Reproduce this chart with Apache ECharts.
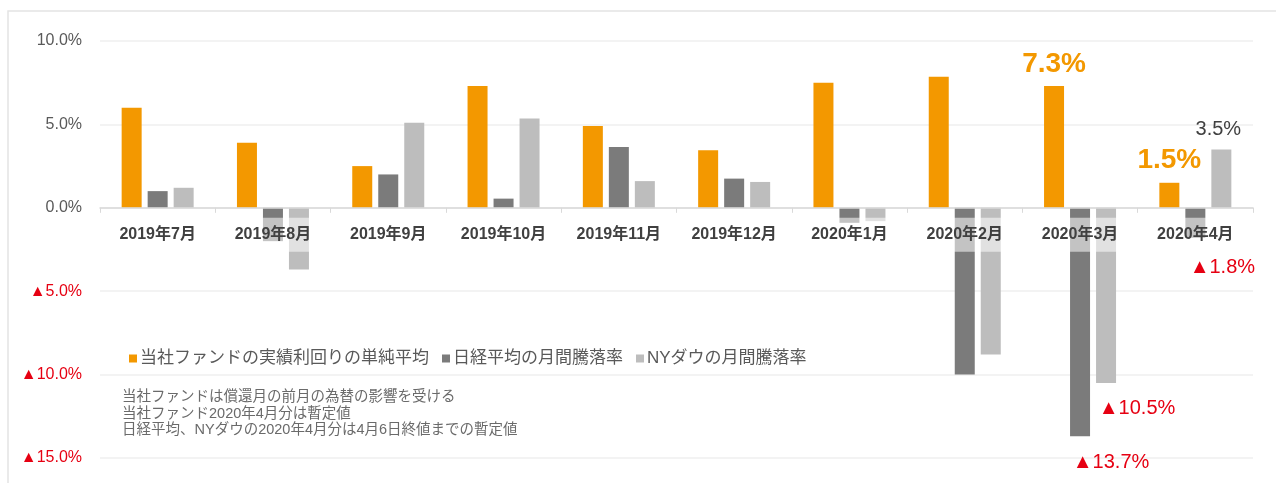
<!DOCTYPE html>
<html>
<head>
<meta charset="utf-8">
<script src="https://cdn.jsdelivr.net/npm/echarts@6/dist/echarts.min.js"></script>
<style>
  html, body { margin: 0; padding: 0; background: #fff; }
  #main { width: 1276px; height: 483px; }
</style>
</head>
<body>
<div id="main"></div>
<script>
var months = ['2019年7月', '2019年8月', '2019年9月', '2019年10月', '2019年11月', '2019年12月', '2020年1月', '2020年2月', '2020年3月', '2020年4月'];
var fundYield = [6.0, 3.9, 2.5, 7.3, 4.9, 3.45, 7.5, 7.85, 7.3, 1.5];
var nikkei = [1.0, -2.0, 2.0, 0.55, 3.65, 1.75, -0.9, -10.0, -13.7, -1.8];
var nyDow = [1.2, -3.7, 5.1, 5.35, 1.6, 1.55, -0.8, -8.8, -10.5, 3.5];
var seriesNames = ['当社ファンドの実績利回りの単純平均', '日経平均の月間騰落率', 'NYダウの月間騰落率'];
var notes = [
  '当社ファンドは償還月の前月の為替の影響を受ける',
  '当社ファンド2020年4月分は暫定値',
  '日経平均、NYダウの2020年4月分は4月6日終値までの暫定値'
];
// which months get a callout
var fundCallouts = [8, 9];
var nikkeiCallouts = [8, 9];
var dowCallouts = [8, 9];

var FONT = '"Liberation Sans", "Noto Sans CJK JP", sans-serif';
var ORANGE = '#f39800', DARK = '#7b7b7b', LIGHT = '#bdbdbd', RED = '#e60012';

var GRID_TOP = 41, GRID_BOTTOM = 25, H = 483;
var Y_MIN = -15, Y_MAX = 10;
// move the category axis up to the zero line
var plotH = H - GRID_TOP - GRID_BOTTOM;
var zeroOffset = -plotH * (0 - Y_MIN) / (Y_MAX - Y_MIN);

function pct(v) {
  return v < 0 ? '▲' + Math.abs(v).toFixed(1) + '%' : v.toFixed(1) + '%';
}

function withCallouts(values, idx, labelFor) {
  return values.map(function (v, i) {
    if (idx.indexOf(i) < 0) return v;
    return { value: v, label: labelFor(v, i) };
  });
}

var fundData = withCallouts(fundYield, fundCallouts, function (v) {
  return { show: true, position: 'top', distance: 8, formatter: pct(v),
    fontSize: 28, fontWeight: 'bold', color: ORANGE, fontFamily: FONT };
});
var nikkeiData = withCallouts(nikkei, nikkeiCallouts, function (v, i) {
  return { show: true, position: 'bottom', distance: i === 9 ? 20 : 16, offset: [i === 9 ? 27 : 31, 0],
    formatter: pct(v), fontSize: 20, color: RED, fontFamily: FONT };
});
var dowData = withCallouts(nyDow, dowCallouts, function (v, i) {
  if (v < 0) {
    return { show: true, position: 'bottom', distance: 16, offset: [31, 0],
      formatter: pct(v), fontSize: 20, color: RED, fontFamily: FONT };
  }
  return { show: true, position: 'top', distance: 10, offset: [-3, 0],
    formatter: pct(v), fontSize: 20, color: '#404040', fontFamily: FONT };
});

var chart = echarts.init(document.getElementById('main'));
var option = {
  animation: false,
  backgroundColor: '#fff',
  textStyle: { fontFamily: FONT },
  grid: { left: 100, right: 23, top: GRID_TOP, bottom: GRID_BOTTOM, outerBoundsMode: 'none', containLabel: false },
  legend: {
    left: 124, top: 345,
    itemWidth: 8, itemHeight: 8, itemGap: 13,
    icon: 'rect',
    textStyle: { fontSize: 17, color: '#595959', fontFamily: FONT, padding: [0, 0, 0, -2] },
    data: seriesNames
  },
  graphic: [
    { type: 'rect', silent: true, z: -10,
      shape: { x: 8, y: 11, width: 1320, height: 520 },
      style: { fill: 'none', stroke: '#e4e4e4', lineWidth: 1.5 } },
    { type: 'text', left: 122, top: 389, silent: true,
      style: { text: notes.join('\n'), fontSize: 14.5, lineHeight: 16.5, fill: '#6a6a6a', fontFamily: FONT } }
  ],
  xAxis: {
    type: 'category',
    data: months,
    z: 3,
    offset: zeroOffset,
    axisLine: { onZero: false, lineStyle: { color: '#d9d9d9', width: 1.5 } },
    axisTick: { show: true, length: 5, lineStyle: { color: '#d9d9d9' } },
    axisLabel: {
      margin: 10, fontSize: 16, fontWeight: 'bold', color: '#404040', fontFamily: FONT,
      backgroundColor: 'rgba(255,255,255,0.55)', padding: [9, 3, 9, 3], lineHeight: 16
    }
  },
  yAxis: {
    type: 'value', min: Y_MIN, max: Y_MAX, interval: 5,
    axisLine: { show: false }, axisTick: { show: false },
    splitLine: { lineStyle: { color: '#efefef', width: 1.5 } },
    axisLabel: {
      margin: 18, fontFamily: FONT,
      formatter: function (v) { return v < 0 ? '{neg|' + pct(v) + '}' : '{pos|' + pct(v) + '}'; },
      rich: {
        pos: { fontSize: 16, color: '#595959', fontFamily: FONT },
        neg: { fontSize: 16, color: RED, fontFamily: FONT }
      }
    }
  },
  series: [
    { name: seriesNames[0], type: 'bar', data: fundData, barWidth: 20, barGap: '30%', itemStyle: { color: ORANGE } },
    { name: seriesNames[1], type: 'bar', data: nikkeiData, barWidth: 20, barGap: '30%', itemStyle: { color: DARK } },
    { name: seriesNames[2], type: 'bar', data: dowData, barWidth: 20, barGap: '30%', itemStyle: { color: LIGHT } }
  ]
};
chart.setOption(option);
</script>
</body>
</html>
